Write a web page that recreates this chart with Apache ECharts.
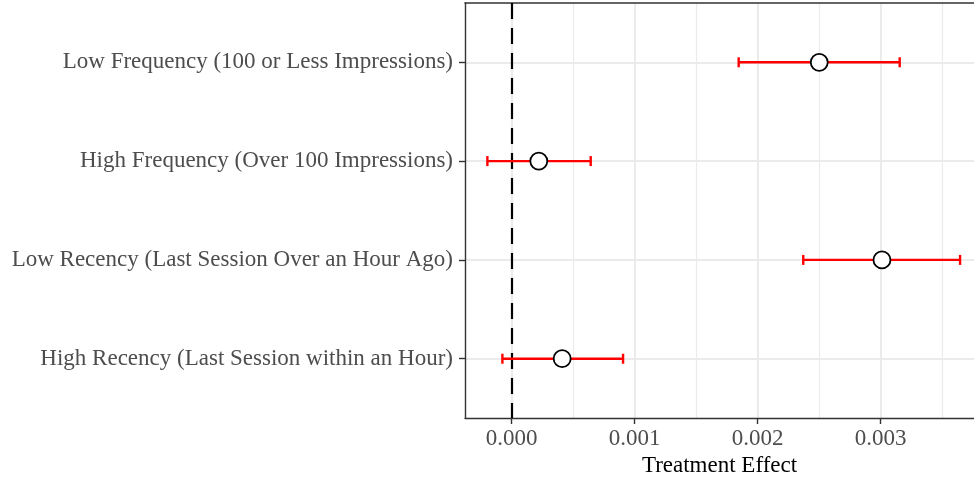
<!DOCTYPE html>
<html>
<head>
<meta charset="utf-8">
<script src="https://cdn.jsdelivr.net/npm/echarts@6/dist/echarts.min.js"></script>
<style>
html,body{margin:0;padding:0;background:#fff;}
#chart{width:974px;height:478px;}
</style>
</head>
<body>
<div id="chart"></div>
<script>
var categories = [
  'Low Frequency (100 or Less Impressions)',
  'High Frequency (Over 100 Impressions)',
  'Low Recency (Last Session Over an Hour Ago)',
  'High Recency (Last Session within an Hour)'
];
var estimates = [0.00250, 0.00022, 0.00301, 0.00041];
var lowerCI   = [0.001845, -0.000198, 0.00237, -0.000076];
var upperCI   = [0.003154, 0.000642, 0.003645, 0.000905];
var xMajorTicks = [0, 0.001, 0.002, 0.003];
var xMinorTicks = [0.0005, 0.0015, 0.0025, 0.0035];
var xTickLabels = ['0.000', '0.001', '0.002', '0.003'];
var yPositions = [1, 2, 3, 4];

var FONT = '"Liberation Serif", "Times New Roman", serif';
var X_MIN = -0.00038, X_MAX = 0.0037582;

var pointData = estimates.map(function (v, i) { return [v, yPositions[i]]; });
var barData = estimates.map(function (v, i) { return [lowerCI[i], upperCI[i], yPositions[i]]; });

var chart = echarts.init(document.getElementById('chart'), null, {renderer: 'canvas'});
chart.setOption({
  animation: false,
  backgroundColor: '#ffffff',
  grid: {
    left: 465, right: 0, top: 3, bottom: 60,
    containLabel: false,
    outerBoundsMode: 'none',
    show: false
  },
  xAxis: [{
    type: 'value',
    min: X_MIN,
    max: X_MAX,
    position: 'bottom',
    name: 'Treatment Effect',
    nameLocation: 'middle',
    nameGap: 35,
    nameTextStyle: {fontFamily: FONT, fontSize: 23, color: '#000000'},
    axisLine: {show: true, onZero: false, lineStyle: {color: '#333333', width: 1.4}},
    axisTick: {show: true, length: 6, customValues: xMajorTicks, lineStyle: {color: '#333333', width: 1.4}},
    axisLabel: {
      show: true, margin: 9, customValues: xMajorTicks,
      fontFamily: FONT, fontSize: 23, color: '#4d4d4d',
      formatter: function (v) {
        var idx = xMajorTicks.findIndex(function (t) { return Math.abs(t - v) < 1e-9; });
        return idx >= 0 ? xTickLabels[idx] : '';
      }
    },
    splitLine: {show: true, lineStyle: {color: '#ebebeb', width: 2}}
  }, {
    type: 'value',
    min: X_MIN,
    max: X_MAX,
    position: 'top',
    axisLine: {show: true, onZero: false, lineStyle: {color: '#333333', width: 1.6}},
    axisTick: {show: false, customValues: xMinorTicks},
    axisLabel: {show: false, customValues: xMinorTicks},
    splitLine: {show: true, lineStyle: {color: '#ebebeb', width: 1.2}}
  }],
  yAxis: {
    type: 'value',
    inverse: true,
    min: 0.4,
    max: 4.6,
    axisLine: {show: true, onZero: false, lineStyle: {color: '#333333', width: 1.4}},
    axisTick: {show: true, length: 6, customValues: yPositions, lineStyle: {color: '#333333', width: 1.4}},
    axisLabel: {
      show: true, margin: 12, customValues: yPositions,
      fontFamily: FONT, fontSize: 23, color: '#4d4d4d',
      formatter: function (v) { return categories[Math.round(v) - 1] || ''; }
    },
    splitLine: {show: true, lineStyle: {color: '#ebebeb', width: 2}}
  },
  series: [{
    type: 'custom',
    xAxisIndex: 0,
    z: 3,
    data: barData,
    renderItem: function (params, api) {
      var lo = api.coord([api.value(0), api.value(2)]);
      var hi = api.coord([api.value(1), api.value(2)]);
      var capH = 5;
      var style = {stroke: '#ff0000', lineWidth: 2.4, fill: null};
      return {
        type: 'group',
        children: [
          {type: 'line', shape: {x1: lo[0], y1: lo[1], x2: hi[0], y2: hi[1]}, style: style},
          {type: 'line', shape: {x1: lo[0], y1: lo[1] - capH, x2: lo[0], y2: lo[1] + capH}, style: style},
          {type: 'line', shape: {x1: hi[0], y1: hi[1] - capH, x2: hi[0], y2: hi[1] + capH}, style: style}
        ]
      };
    }
  }, {
    type: 'scatter',
    xAxisIndex: 0,
    z: 4,
    symbol: 'circle',
    symbolSize: 17,
    data: pointData,
    itemStyle: {color: '#ffffff', borderColor: '#000000', borderWidth: 1.8, opacity: 1},
    markLine: {
      silent: true,
      symbol: 'none',
      label: {show: false},
      z: 2,
      lineStyle: {color: '#000000', width: 2.2, type: [16, 9]},
      data: [{xAxis: 0}]
    }
  }]
});
</script>
</body>
</html>
